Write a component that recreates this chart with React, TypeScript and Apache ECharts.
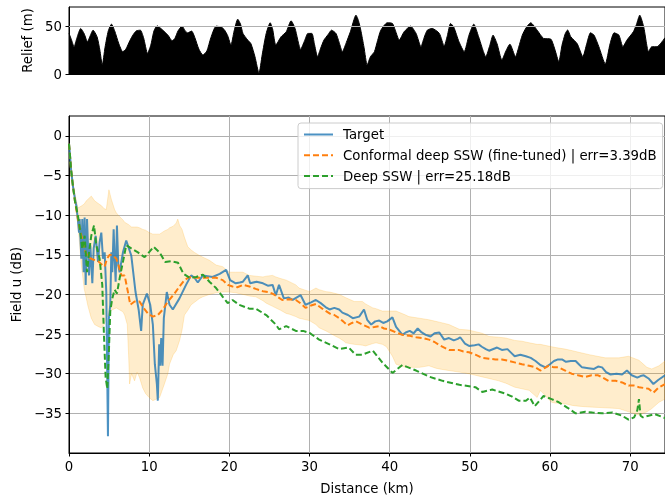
import React, { useEffect, useRef } from "react";
import * as echarts from "echarts";

// ---------- data ----------
const xTicks = [0, 10, 20, 30, 40, 50, 60, 70];
const fieldTicks = [-35, -30, -25, -20, -15, -10, -5, 0];
const reliefTicks = [0, 50];

const reliefKm = [0, 0.3, 0.63, 1.0, 1.46, 1.9, 2.3, 2.65, 3.0, 3.5, 3.85, 4.15, 4.5, 4.9, 5.3, 5.7, 6.2, 6.7, 7.1, 7.6, 8.0, 8.4, 8.9, 9.3, 9.8, 10.2, 10.6, 11.0, 11.4, 11.9, 12.4, 12.85, 13.2, 13.6, 14.1, 14.5, 14.8, 15.3, 15.7, 16.2, 16.7, 17.2, 17.7, 18.35, 19.0, 19.4, 19.8, 20.2, 20.6, 21.05, 21.4, 21.7, 22.3, 22.7, 23.2, 23.7, 24.1, 24.6, 25.1, 25.4, 25.8, 26.45, 27.1, 27.7, 28.2, 28.9, 29.4, 29.8, 30.3, 30.6, 31.0, 31.4, 31.8, 32.3, 32.75, 33.3, 33.7, 34.1, 34.6, 35.1, 35.8, 36.1, 36.4, 36.8, 37.2, 37.6, 38.1, 38.5, 38.9, 39.7, 40.35, 40.7, 41.2, 41.8, 42.6, 43.3, 43.9, 44.3, 44.7, 45.3, 46.2, 46.8, 47.2, 47.6, 48.0, 48.65, 49.3, 49.9, 50.5, 51.1, 52.0, 52.5, 52.9, 53.4, 54.0, 54.5, 55.0, 55.7, 56.1, 56.55, 57.0, 57.6, 58.4, 59.2, 60.1, 60.6, 61.1, 61.5, 61.9, 62.2, 62.6, 63.4, 64.1, 64.6, 65.05, 65.5, 66.1, 66.9, 67.5, 68.0, 68.6, 69.1, 69.6, 70.4, 70.8, 71.2, 71.7, 72.3, 72.7, 73.35, 74.35];
const reliefM = [42.4, 36, 28.5, 38, 47.6, 42, 33.7, 40, 45.8, 38.9, 25, 9.4, 28, 45, 52.1, 45, 32, 23.3, 26, 35, 41, 45.1, 45.8, 38, 21.5, 30, 45, 50.3, 48, 44.3, 40, 34.7, 37, 45, 50, 45, 43, 44.8, 38, 26, 19.8, 24, 38, 50, 49, 46, 40, 30.2, 45, 57.3, 52, 42.4, 35.4, 31.6, 18, 0.7, 20, 42.4, 53.5, 47, 30.2, 38.9, 44.1, 55.6, 47.6, 25.7, 35, 42.4, 42.4, 32, 18.1, 27, 35.4, 41, 45.8, 42.4, 33, 23.3, 33, 44.1, 61.5, 56, 45.8, 28, 9.4, 18, 23.3, 35, 45.8, 53.5, 52.8, 45.8, 35.4, 44.1, 50, 42.4, 28.5, 38, 45.8, 47.6, 42.4, 29.2, 40, 52.8, 49, 33.7, 23.3, 40.6, 52.1, 38.9, 18.1, 30, 40.6, 31.6, 14.6, 24, 31.2, 18.1, 28, 40.6, 48, 53.5, 45.8, 37.2, 36.5, 26, 12.8, 30, 42, 46, 38.9, 31.6, 18.1, 32, 43, 40.6, 28.5, 10.4, 31.6, 43, 40.6, 28.5, 35.4, 44.1, 52, 61.5, 49, 23.3, 28.5, 28.5, 38];

const targetKm = [0, 0.09, 0.25, 0.5, 0.75, 0.92, 1.12, 1.25, 1.33, 1.54, 1.66, 1.83, 1.95, 2.08, 2.25, 2.5, 2.66, 2.91, 3.08, 3.33, 3.62, 3.82, 4.03, 4.24, 4.45, 4.65, 4.86, 4.98, 5.15, 5.28, 5.4, 5.57, 5.69, 5.82, 5.98, 6.15, 6.31, 6.73, 7.14, 7.77, 8.3, 8.7, 9.0, 9.2, 9.72, 10.13, 10.46, 10.71, 10.96, 11.08, 11.25, 11.38, 11.5, 11.67, 11.83, 12.2, 12.54, 12.95, 13.78, 14.6, 15.24, 15.65, 16.07, 16.7, 17.9, 18.8, 19.6, 20.1, 20.8, 21.3, 21.7, 22.3, 22.6, 23.4, 24.2, 24.8, 25.4, 25.8, 26.2, 26.8, 27.4, 27.9, 28.9, 29.5, 30.2, 30.8, 31.4, 32.0, 32.5, 33.1, 33.7, 34.1, 34.8, 35.4, 36.2, 36.8, 37.2, 37.7, 38.2, 38.7, 39.2, 39.7, 40.35, 40.8, 41.6, 42.0, 42.5, 43.0, 43.5, 44.0, 44.5, 45.1, 45.6, 46.2, 46.8, 47.4, 48.0, 48.5, 48.8, 49.4, 49.9, 50.6, 51.1, 51.5, 52.0, 52.4, 53.4, 54.0, 54.7, 55.2, 55.6, 56.3, 57.0, 57.6, 58.2, 58.8, 59.45, 60.0, 60.5, 61.0, 61.5, 62.0, 62.6, 63.2, 63.6, 64.0, 64.8, 65.5, 66.0, 66.5, 67.0, 67.55, 68.3, 69.0, 69.6, 70.2, 70.9, 71.3, 71.7, 72.3, 72.9, 73.5, 74.35];
const targetDb = [-1.0, -2.0, -4.2, -6.4, -8.0, -8.85, -10.7, -12.2, -10.5, -15.5, -10.5, -17.2, -10.3, -18.8, -10.5, -17.6, -13.8, -18.6, -14.2, -12.6, -15.9, -13.4, -12.2, -15.5, -14.7, -19.7, -37.9, -23.0, -21.3, -14.7, -17.2, -11.8, -15.5, -18.4, -11.3, -16.3, -17.2, -14.7, -13.2, -15.1, -19.7, -22, -24.6, -21.3, -19.9, -21.3, -23.8, -28.8, -31.3, -33.4, -26.3, -29.0, -25.5, -29.0, -23.0, -19.7, -21.3, -21.9, -20.5, -18.8, -17.6, -17.9, -18.5, -17.6, -17.8, -17.4, -16.9, -18.2, -18.6, -18.5, -18.4, -17.6, -18.6, -18.4, -18.6, -18.9, -18.8, -20.1, -18.8, -20.5, -20.4, -20.7, -20.1, -21.3, -21.0, -20.7, -21.1, -21.6, -21.9, -21.7, -21.9, -22.3, -22.6, -23.0, -22.8, -21.9, -23.2, -23.8, -23.4, -23.3, -23.6, -23.4, -22.9, -24.1, -25.1, -24.8, -24.6, -24.9, -24.3, -24.8, -25.1, -25.3, -24.9, -24.8, -25.7, -25.5, -25.8, -25.6, -25.4, -26.2, -26.5, -26.4, -26.3, -26.6, -26.9, -27.1, -26.7, -27.0, -26.9, -27.4, -27.8, -27.6, -27.8, -28.0, -28.4, -28.9, -29.2, -28.8, -28.4, -28.2, -28.2, -28.5, -28.4, -28.4, -28.8, -29.2, -29.3, -29.4, -29.1, -29.2, -29.8, -30.1, -30.0, -30.1, -29.6, -30.2, -30.5, -30.3, -30.2, -30.6, -31.3, -30.8, -30.2];

const conformalKm = [0, 0.09, 0.25, 0.5, 0.75, 1.12, 1.4, 1.75, 2.0, 2.37, 2.99, 3.62, 4.15, 4.45, 4.74, 5.07, 5.48, 5.9, 6.23, 6.52, 6.94, 7.35, 7.64, 8.18, 8.8, 9.3, 9.84, 10.46, 11.08, 11.71, 12.33, 13.16, 13.78, 14.4, 15.03, 15.86, 17.1, 18.35, 19.18, 19.8, 20.4, 21.0, 21.7, 22.5, 23.3, 24.2, 24.8, 25.4, 26.0, 26.6, 27.4, 28.3, 29.0, 29.5, 30.2, 30.8, 31.6, 32.5, 33.1, 33.7, 34.2, 34.75, 35.3, 35.8, 36.6, 37.45, 38.1, 38.7, 39.3, 39.9, 40.8, 41.6, 42.4, 43.3, 44.1, 44.9, 45.6, 46.2, 47.4, 48.0, 48.6, 49.2, 49.9, 50.7, 51.5, 52.4, 53.2, 54.0, 54.9, 55.7, 56.5, 57.4, 58.2, 58.8, 59.3, 59.8, 60.5, 61.1, 61.9, 62.7, 63.5, 64.4, 65.2, 66.0, 66.6, 67.3, 68.2, 69.0, 69.8, 70.5, 71.1, 71.7, 72.3, 72.9, 73.5, 74.35];
const conformalDb = [-1.0, -2.0, -4.2, -6.4, -8.3, -10.5, -12.0, -13.4, -14.5, -15.3, -15.6, -15.8, -16.3, -16.5, -15.5, -15.0, -15.1, -15.5, -16.5, -17.6, -17.6, -19.7, -21.3, -20.9, -20.9, -21.7, -22.4, -22.8, -22.6, -21.9, -20.9, -19.9, -19.0, -18.2, -17.8, -17.9, -17.9, -17.9, -18.2, -18.8, -19.0, -19.1, -18.8, -19.0, -19.3, -19.6, -19.7, -19.9, -20.3, -20.7, -20.6, -20.7, -21.2, -21.7, -21.4, -21.2, -21.8, -22.4, -22.6, -23.0, -23.4, -23.9, -23.6, -23.4, -23.8, -24.2, -24.1, -24.0, -24.3, -24.4, -24.8, -25.1, -25.2, -25.4, -25.5, -25.7, -26.0, -26.4, -27.0, -27.0, -27.0, -27.2, -27.3, -27.6, -28.0, -28.1, -28.2, -28.2, -28.4, -28.6, -28.8, -29.0, -29.2, -29.6, -29.3, -29.0, -29.2, -29.2, -29.6, -30.0, -30.2, -30.4, -30.2, -30.2, -30.5, -30.9, -30.9, -31.1, -31.5, -31.5, -31.7, -31.8, -31.9, -32.4, -31.8, -31.3];

const deepKm = [0, 0.09, 0.25, 0.5, 0.75, 1.12, 1.42, 1.66, 1.95, 2.25, 2.5, 2.78, 3.12, 3.41, 3.82, 4.15, 4.36, 4.57, 4.78, 4.98, 5.15, 5.4, 5.69, 5.98, 6.31, 6.73, 7.14, 7.77, 8.6, 9.43, 9.97, 10.55, 11.3, 12.0, 12.75, 13.6, 14.28, 15.03, 15.86, 16.7, 17.52, 18.35, 19.18, 19.8, 20.4, 21.2, 22.5, 23.3, 24.6, 25.8, 26.2, 27.1, 28.3, 29.2, 30.0, 31.2, 32.5, 33.7, 34.9, 35.75, 36.6, 37.9, 39.1, 40.35, 41.6, 43.3, 45.0, 46.6, 48.7, 50.7, 51.55, 52.8, 54.4, 55.3, 56.1, 57.0, 57.5, 58.1, 59.2, 60.2, 61.1, 62.2, 63.2, 64.4, 65.3, 66.5, 67.8, 69.0, 69.8, 70.5, 70.9, 71.1, 71.3, 71.6, 72.3, 73.1, 74.35];
const deepDb = [-1.0, -2.0, -4.2, -6.4, -8.3, -10.1, -12.2, -14.3, -12.6, -17.2, -14.7, -12.6, -11.3, -13.8, -15.5, -18.8, -25.1, -30.5, -31.9, -27.1, -22.1, -20.5, -19.4, -19.9, -18.0, -15.9, -13.8, -14.2, -14.7, -15.3, -14.7, -14.0, -14.7, -15.9, -15.8, -16.0, -17.4, -17.9, -17.8, -17.5, -18.4, -19.2, -20.3, -21.1, -20.7, -21.3, -21.8, -21.8, -22.6, -23.8, -24.4, -24.0, -24.6, -24.6, -24.85, -25.7, -26.3, -26.9, -26.7, -27.6, -27.6, -27.1, -28.6, -29.9, -28.9, -29.6, -30.4, -30.9, -31.4, -31.7, -32.3, -32.0, -32.5, -32.9, -33.4, -33.4, -33.0, -34.1, -32.8, -33.2, -33.6, -34.3, -35.0, -34.8, -34.9, -35.0, -34.9, -35.3, -35.8, -35.5, -34.6, -33.2, -35.3, -35.5, -35.3, -35.1, -35.6];

const bandKm = [0, 0.1, 0.4, 0.71, 1.12, 1.54, 1.9, 2.16, 2.37, 2.78, 3.2, 3.74, 4.03, 4.4, 4.65, 4.98, 5.28, 5.69, 5.9, 6.23, 6.73, 6.94, 7.27, 7.45, 7.56, 7.8, 8.18, 8.5, 8.8, 9.2, 9.55, 10.0, 10.46, 10.9, 11.3, 11.9, 12.33, 12.54, 13.0, 13.37, 13.57, 13.8, 14.1, 14.4, 14.82, 15.24, 15.65, 16.28, 16.7, 17.52, 18.35, 19.18, 20.0, 20.8, 21.7, 22.5, 23.3, 24.2, 24.6, 25.4, 25.8, 26.4, 27.1, 27.5, 28.3, 28.7, 30.0, 30.8, 31.2, 32.05, 32.5, 33.3, 33.7, 34.3, 34.5, 35.6, 36.6, 37.0, 37.9, 38.3, 39.1, 39.6, 40.35, 40.8, 42.0, 42.4, 43.7, 44.9, 45.75, 46.2, 47.4, 48.7, 49.9, 50.3, 51.55, 52.4, 53.6, 54.5, 55.6, 56.5, 57.4, 58.4, 58.8, 60.2, 60.7, 61.9, 62.8, 63.6, 64.9, 66.9, 68.6, 69.8, 71.1, 72.1, 72.7, 73.6, 74.35];
const bandHigh = [-1.0, -2.0, -5.5, -7.2, -9.1, -8.85, -8.6, -8.2, -8.0, -7.6, -8.2, -8.6, -8.8, -9.2, -9.3, -6.8, -8.0, -9.3, -9.7, -10.1, -10.6, -10.9, -11.1, -11.2, -11.3, -11.5, -11.5, -11.5, -11.6, -11.8, -11.9, -12.2, -12.4, -12.4, -12.4, -12.0, -11.8, -11.6, -11.4, -11.0, -10.5, -11.3, -11.8, -12.8, -14.0, -14.4, -14.7, -15.1, -15.3, -15.7, -16.3, -16.5, -17.2, -17.2, -17.2, -17.6, -17.7, -17.8, -17.7, -17.6, -17.8, -18.0, -18.2, -18.4, -18.8, -19.2, -19.65, -19.2, -19.4, -19.65, -19.7, -19.9, -20.0, -20.3, -20.4, -20.9, -20.9, -21.2, -21.7, -21.8, -22.1, -22.1, -22.1, -22.1, -22.6, -22.8, -23.0, -23.2, -23.4, -23.5, -23.8, -24.4, -24.5, -24.6, -24.9, -25.3, -25.4, -25.5, -25.8, -25.9, -26.1, -26.3, -26.3, -26.6, -26.7, -26.9, -27.1, -27.3, -27.6, -28.0, -28.0, -27.8, -28.3, -29.2, -29.4, -29.0, -28.4];
const bandLow = [-1.0, -2.1, -6.0, -7.8, -11.3, -16.3, -19.3, -20.5, -21.5, -23.0, -23.8, -24.1, -24.2, -23.8, -23.0, -22.5, -22.0, -21.8, -21.7, -21.9, -22.2, -22.6, -23.8, -28, -31.3, -30.0, -30.9, -29.8, -30.5, -31.8, -32.5, -33.0, -33.4, -33.2, -33.0, -31.3, -30.0, -28.8, -27.6, -27.1, -26.5, -25.8, -24.5, -22.6, -22.0, -21.3, -21.0, -20.5, -20.3, -20.0, -19.8, -19.7, -19.7, -19.8, -20.0, -20.2, -20.3, -20.8, -21.1, -21.5, -21.7, -22.0, -22.4, -22.5, -22.8, -23.0, -23.3, -23.8, -24.2, -24.6, -24.85, -25.3, -25.5, -25.9, -26.1, -26.3, -26.4, -26.5, -26.2, -26.1, -26.3, -26.6, -27.8, -28.8, -29.2, -29.2, -29.2, -29.0, -29.3, -29.4, -29.6, -29.8, -30.0, -30.1, -30.4, -30.6, -30.9, -31.2, -31.7, -31.9, -32.1, -33.0, -32.1, -33.6, -33.7, -33.8, -34.0, -34.1, -34.2, -34.3, -34.4, -34.8, -35.2, -34.8, -34.4, -33.6, -33.2];

const seriesNames = [
  "Target",
  "Conformal deep SSW (fine-tuned) | err=3.39dB",
  "Deep SSW | err=25.18dB",
];

const X_MAX = 74.35;
const FONT = "DejaVu Sans";
const FS = 13.3;

const pairs = (xs: number[], ys: number[]) => xs.map((x, i) => [x, ys[i]]);
const fmt = (v: number) => String(v).replace("-", "\u2212");

export default function App() {
  const ref = useRef<HTMLDivElement>(null);
  useEffect(() => {
    if (!ref.current) return;
    const chart = echarts.init(ref.current, null, { renderer: "svg" });
    const textStyle = { color: "#000", fontFamily: FONT, fontSize: FS };
    const bandColor = "rgba(255,165,0,0.2)";

    chart.setOption({
      animation: false,
      textStyle: { fontFamily: FONT },
      grid: [
        { left: 69, top: 7, width: 597, height: 67, show: true, borderColor: "#000", borderWidth: 1 },
        { left: 69, top: 116, width: 597, height: 341, show: true, borderColor: "#000", borderWidth: 1 },
      ],
      legend: {
        data: seriesNames,
        orient: "vertical",
        left: 298,
        top: 123,
        itemWidth: 29,
        itemHeight: 15,
        itemGap: 5.8,
        padding: [4, 6, 5, 5],
        backgroundColor: "rgba(255,255,255,0.8)",
        borderColor: "#cccccc",
        borderWidth: 1,
        borderRadius: 3,
        itemStyle: { opacity: 0 },
        textStyle: { ...textStyle, lineHeight: 15, padding: [0, 0, 0, 5] },
        selectedMode: false,
      },
      xAxis: [
        {
          type: "value", gridIndex: 0, min: 0, max: X_MAX, interval: 10,
          axisLine: { show: true, onZero: false, lineStyle: { color: "#000", width: 1 } },
          axisTick: { show: false }, axisLabel: { show: false }, splitLine: { show: false },
        },
        {
          type: "value", gridIndex: 1, min: 0, max: X_MAX, interval: 10,
          name: "Distance (km)", nameLocation: "middle", nameGap: 29, nameTextStyle: textStyle,
          axisLine: { show: true, onZero: false, lineStyle: { color: "#000", width: 1 } },
          axisTick: { show: true, length: 3.5, customValues: xTicks, lineStyle: { color: "#000" } },
          axisLabel: { ...textStyle, margin: 7, customValues: xTicks, formatter: fmt },
          splitLine: { show: true, lineStyle: { color: "#b0b0b0", width: 1 } },
        },
      ],
      yAxis: [
        {
          type: "value", gridIndex: 0, min: 0, max: 70, interval: 50,
          name: "Relief (m)", nameLocation: "middle", nameGap: 31, nameRotate: 90, nameTextStyle: textStyle,
          axisLine: { show: true, onZero: false, lineStyle: { color: "#000", width: 1 } },
          axisTick: { show: true, length: 3.5, customValues: reliefTicks, lineStyle: { color: "#000" } },
          axisLabel: { ...textStyle, margin: 7, customValues: reliefTicks, formatter: fmt },
          splitLine: { show: false },
        },
        {
          type: "value", gridIndex: 1, min: -40, max: 2.5, interval: 5,
          name: "Field u (dB)", nameLocation: "middle", nameGap: 44, nameRotate: 90, nameTextStyle: textStyle,
          axisLine: { show: true, onZero: false, lineStyle: { color: "#000", width: 1 } },
          axisTick: { show: true, length: 3.5, customValues: fieldTicks, lineStyle: { color: "#000" } },
          axisLabel: { ...textStyle, margin: 7, customValues: fieldTicks, formatter: fmt },
          splitLine: { show: true, lineStyle: { color: "#b0b0b0", width: 1 } },
        },
      ],
      series: [
        {
          name: "relief", type: "line", xAxisIndex: 0, yAxisIndex: 0,
          data: pairs(reliefKm, reliefM), symbol: "none", smooth: 0.2,
          lineStyle: { color: "#000", width: 1 },
          areaStyle: { color: "#000", opacity: 1 },
          silent: true,
          markLine: {
            silent: true, symbol: ["none", "none"], label: { show: false },
            lineStyle: { color: "#b0b0b0", width: 1, type: "solid" },
            data: [{ yAxis: reliefTicks[1] }],
          },
        },
        {
          name: "band", type: "custom", xAxisIndex: 1, yAxisIndex: 1,
          silent: true, z: 1, clip: true,
          data: bandKm.map((x, i) => [x, bandLow[i], bandHigh[i]]),
          encode: { x: 0, y: [1, 2] },
          renderItem: (params: any, api: any) => {
            if (params.dataIndex !== 0) return null;
            const top = bandKm.map((x, i) => api.coord([x, bandHigh[i]]));
            const bottom = bandKm.map((x, i) => api.coord([x, bandLow[i]])).reverse();
            return {
              type: "polygon",
              shape: { points: top.concat(bottom) },
              style: { fill: bandColor, stroke: bandColor, lineWidth: 1 },
            };
          },
        },
        {
          name: seriesNames[0], type: "line", xAxisIndex: 1, yAxisIndex: 1,
          data: pairs(targetKm, targetDb), symbol: "none", z: 3,
          color: "rgba(31,119,180,0.8)",
          lineStyle: { color: "rgba(31,119,180,0.8)", width: 2 },
        },
        {
          name: seriesNames[1], type: "line", xAxisIndex: 1, yAxisIndex: 1,
          data: pairs(conformalKm, conformalDb), symbol: "none", z: 4,
          color: "#ff7f0e",
          lineStyle: { color: "#ff7f0e", width: 2, type: [6, 3] },
        },
        {
          name: seriesNames[2], type: "line", xAxisIndex: 1, yAxisIndex: 1,
          data: pairs(deepKm, deepDb), symbol: "none", z: 5,
          color: "#2ca02c",
          lineStyle: { color: "#2ca02c", width: 2, type: [6, 3] },
        },
      ],
    });
    return () => chart.dispose();
  }, []);
  return (
    <div
      ref={ref}
      style={{ position: "fixed", left: 0, top: 0, width: 665, height: 500 }}
    />
  );
}
